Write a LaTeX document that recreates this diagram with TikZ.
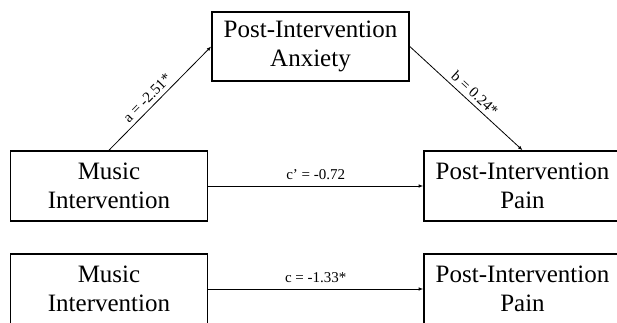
\documentclass[tikz,border=0pt]{standalone}
\usepackage{fontspec}
\setmainfont{Liberation Serif}
\usetikzlibrary{arrows.meta}
\begin{document}
\begin{tikzpicture}[x=1pt,y=-1pt,
  box/.style={draw, line width=1.6pt, minimum width=197pt, minimum height=70pt,
    inner sep=0pt, align=center, font=\fontsize{25}{29.5}\selectfont},
  link/.style={line width=0.8pt, -{Latex[length=4.5pt,width=3.5pt]}},
  lab/.style={font=\fontsize{15}{17}\selectfont, inner sep=1pt}]
\useasboundingbox (0,0) rectangle (617,322);
\node[box, minimum height=69pt] (anx) at (310.5,46.5) {Post-Intervention\\Anxiety};
\node[box] (mus1) at (109,186) {Music\\Intervention};
\node[box] (pain1) at (522.5,186) {Post-Intervention\\Pain};
\node[box] (mus2) at (109,289) {Music\\Intervention};
\node[box] (pain2) at (522.5,289) {Post-Intervention\\Pain};
\draw[link] (mus1.north) -- node[lab, pos=0.44, sloped, above=3pt] {a = -2.51*} (anx.west);
\draw[link] (anx.east) -- node[lab, pos=0.52, sloped, above=3pt] {b = 0.24*} (pain1.north);
\draw[link] (mus1.east) -- node[lab, pos=0.5, anchor=base, yshift=6.5pt] {c’ = -0.72} (pain1.west);
\draw[link] (mus2.east) -- node[lab, pos=0.5, anchor=base, yshift=6.5pt] {c = -1.33*} (pain2.west);
\end{tikzpicture}
\end{document}
